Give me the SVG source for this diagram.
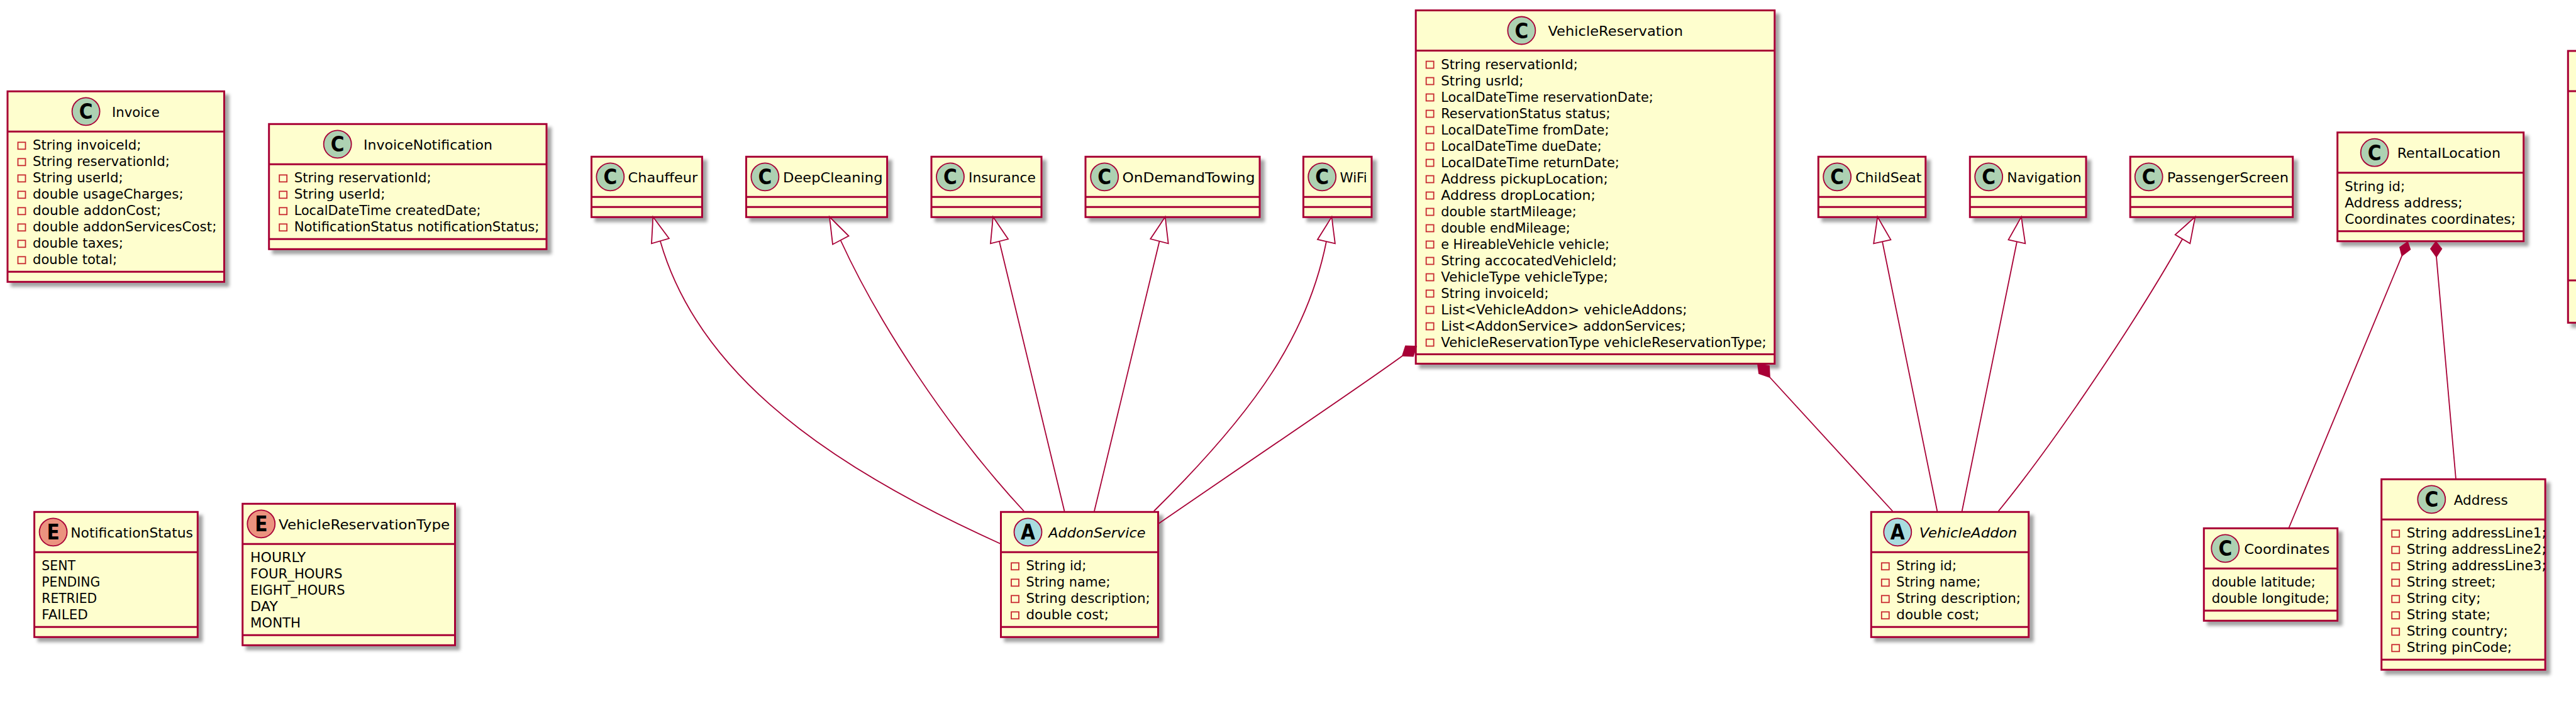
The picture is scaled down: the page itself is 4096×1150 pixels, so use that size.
<svg xmlns="http://www.w3.org/2000/svg" width="4096" height="1150" viewBox="0 0 4096 1150">
<style>
text{font-family:"DejaVu Sans","Liberation Sans",sans-serif;font-size:21.6px;fill:#000}
.i{font-style:italic}
.g{font-size:33px;font-weight:700;font-stretch:condensed;text-anchor:middle}
.box{fill:#FEFECE;stroke:#A80036;stroke-width:3;filter:url(#sh)}
.d{fill:none;stroke:#A80036;stroke-width:3}
.cc{fill:#ADD1B2;stroke:#A80036;stroke-width:1.8}
.ca{fill:#A9DCDF;stroke:#A80036;stroke-width:1.8}
.ce{fill:#EB937F;stroke:#A80036;stroke-width:1.8}
.p{fill:none;stroke:#C82930;stroke-width:1.8}
.l{fill:none;stroke:#A80036;stroke-width:1.8}
.h{fill:#fff;stroke:#A80036;stroke-width:1.8}
.m{fill:#A80036;stroke:#A80036;stroke-width:1.8}
</style>
<defs>
<filter id="sh" x="-10%" y="-10%" width="125%" height="125%"><feDropShadow dx="6.5" dy="6.5" stdDeviation="2.6" flood-color="#000" flood-opacity="0.36"/></filter>
<rect id="pv" class="p" width="12" height="11"/>
</defs>
<rect width="4096" height="1150" fill="#fff"/>

<g id="Invoice" transform="translate(12,145.3)"><rect class="box" width="344.5" height="303"/><path class="d" d="M0 64H344.5M0 287H344.5"/><circle class="cc" cx="124.6" cy="32" r="22"/><text class="g" x="124.6" y="44">C</text><text x="166" y="40.5" textLength="75.7" lengthAdjust="spacingAndGlyphs">Invoice</text>
<use href="#pv" x="16.5" y="81"/><text x="40" y="93" textLength="172.5" lengthAdjust="spacingAndGlyphs">String invoiceId;</text>
<use href="#pv" x="16.5" y="107"/><text x="40" y="119" textLength="217.8" lengthAdjust="spacingAndGlyphs">String reservationId;</text>
<use href="#pv" x="16.5" y="133"/><text x="40" y="145" textLength="143.8" lengthAdjust="spacingAndGlyphs">String userId;</text>
<use href="#pv" x="16.5" y="159"/><text x="40" y="171" textLength="239.6" lengthAdjust="spacingAndGlyphs">double usageCharges;</text>
<use href="#pv" x="16.5" y="185"/><text x="40" y="197" textLength="204" lengthAdjust="spacingAndGlyphs">double addonCost;</text>
<use href="#pv" x="16.5" y="211"/><text x="40" y="223" textLength="292.4" lengthAdjust="spacingAndGlyphs">double addonServicesCost;</text>
<use href="#pv" x="16.5" y="237"/><text x="40" y="249" textLength="143.8" lengthAdjust="spacingAndGlyphs">double taxes;</text>
<use href="#pv" x="16.5" y="263"/><text x="40" y="275" textLength="134" lengthAdjust="spacingAndGlyphs">double total;</text></g>

<g id="InvoiceNotification" transform="translate(427.7,197.3)"><rect class="box" width="441.3" height="199"/><path class="d" d="M0 64H441.3M0 183H441.3"/><circle class="cc" cx="109" cy="32" r="22"/><text class="g" x="109" y="44">C</text><text x="150.3" y="40.5" textLength="205" lengthAdjust="spacingAndGlyphs">InvoiceNotification</text>
<use href="#pv" x="16.5" y="81"/><text x="40" y="93" textLength="218" lengthAdjust="spacingAndGlyphs">String reservationId;</text>
<use href="#pv" x="16.5" y="107"/><text x="40" y="119" textLength="144.7" lengthAdjust="spacingAndGlyphs">String userId;</text>
<use href="#pv" x="16.5" y="133"/><text x="40" y="145" textLength="296.8" lengthAdjust="spacingAndGlyphs">LocalDateTime createdDate;</text>
<use href="#pv" x="16.5" y="159"/><text x="40" y="171" textLength="389.8" lengthAdjust="spacingAndGlyphs">NotificationStatus notificationStatus;</text></g>

<g id="NotificationStatus" transform="translate(54.6,814.3)"><rect class="box" width="259.7" height="199"/><path class="d" d="M0 64H259.7M0 183H259.7"/><circle class="ce" cx="30" cy="32" r="22"/><text class="g" x="30" y="44">E</text><text x="57.6" y="40.5" textLength="194.8" lengthAdjust="spacingAndGlyphs">NotificationStatus</text>
<text x="11.7" y="93" textLength="53.6" lengthAdjust="spacingAndGlyphs">SENT</text><text x="11.7" y="119" textLength="92.9" lengthAdjust="spacingAndGlyphs">PENDING</text><text x="11.7" y="145" textLength="87.8" lengthAdjust="spacingAndGlyphs">RETRIED</text><text x="11.7" y="171" textLength="73.5" lengthAdjust="spacingAndGlyphs">FAILED</text></g>

<g id="VehicleReservationType" transform="translate(385.7,801.3)"><rect class="box" width="337.8" height="225"/><path class="d" d="M0 64H337.8M0 209H337.8"/><circle class="ce" cx="29.6" cy="32" r="22"/><text class="g" x="29.6" y="44">E</text><text x="57.2" y="40.5" textLength="272.4" lengthAdjust="spacingAndGlyphs">VehicleReservationType</text>
<text x="12.3" y="93" textLength="88.3" lengthAdjust="spacingAndGlyphs">HOURLY</text><text x="12.3" y="119" textLength="146.4" lengthAdjust="spacingAndGlyphs">FOUR_HOURS</text><text x="12.3" y="145" textLength="150.5" lengthAdjust="spacingAndGlyphs">EIGHT_HOURS</text><text x="12.3" y="171" textLength="43.9" lengthAdjust="spacingAndGlyphs">DAY</text><text x="12.3" y="197" textLength="80.1" lengthAdjust="spacingAndGlyphs">MONTH</text></g>

<g id="Chauffeur" transform="translate(940.5,249.3)"><rect class="box" width="175.9" height="96"/><path class="d" d="M0 64H175.9M0 80H175.9"/><circle class="cc" cx="29.9" cy="32" r="22"/><text class="g" x="29.9" y="44">C</text><text x="58.1" y="40.5" textLength="110.7" lengthAdjust="spacingAndGlyphs">Chauffeur</text></g>
<g id="DeepCleaning" transform="translate(1186.5,249.3)"><rect class="box" width="224.1" height="96"/><path class="d" d="M0 64H224.1M0 80H224.1"/><circle class="cc" cx="29.9" cy="32" r="22"/><text class="g" x="29.9" y="44">C</text><text x="58.5" y="40.5" textLength="158.5" lengthAdjust="spacingAndGlyphs">DeepCleaning</text></g>
<g id="Insurance" transform="translate(1481,249.3)"><rect class="box" width="175" height="96"/><path class="d" d="M0 64H175M0 80H175"/><circle class="cc" cx="30" cy="32" r="22"/><text class="g" x="30" y="44">C</text><text x="59" y="40.5" textLength="107" lengthAdjust="spacingAndGlyphs">Insurance</text></g>
<g id="OnDemandTowing" transform="translate(1726,249.3)"><rect class="box" width="277" height="96"/><path class="d" d="M0 64H277M0 80H277"/><circle class="cc" cx="30.2" cy="32" r="22"/><text class="g" x="30.2" y="44">C</text><text x="58.6" y="40.5" textLength="210.8" lengthAdjust="spacingAndGlyphs">OnDemandTowing</text></g>
<g id="WiFi" transform="translate(2072.4,249.3)"><rect class="box" width="108.6" height="96"/><path class="d" d="M0 64H108.6M0 80H108.6"/><circle class="cc" cx="29.8" cy="32" r="22"/><text class="g" x="29.8" y="44">C</text><text x="58.1" y="40.5" textLength="43.3" lengthAdjust="spacingAndGlyphs">WiFi</text></g>
<g id="ChildSeat" transform="translate(2891.3,249.3)"><rect class="box" width="170.5" height="96"/><path class="d" d="M0 64H170.5M0 80H170.5"/><circle class="cc" cx="29.9" cy="32" r="22"/><text class="g" x="29.9" y="44">C</text><text x="58.9" y="40.5" textLength="105.3" lengthAdjust="spacingAndGlyphs">ChildSeat</text></g>
<g id="Navigation" transform="translate(3132.3,249.3)"><rect class="box" width="184.7" height="96"/><path class="d" d="M0 64H184.7M0 80H184.7"/><circle class="cc" cx="29.9" cy="32" r="22"/><text class="g" x="29.9" y="44">C</text><text x="59" y="40.5" textLength="118.3" lengthAdjust="spacingAndGlyphs">Navigation</text></g>
<g id="PassengerScreen" transform="translate(3387.2,249.3)"><rect class="box" width="258.5" height="96"/><path class="d" d="M0 64H258.5M0 80H258.5"/><circle class="cc" cx="29.5" cy="32" r="22"/><text class="g" x="29.5" y="44">C</text><text x="58.5" y="40.5" textLength="193.3" lengthAdjust="spacingAndGlyphs">PassengerScreen</text></g>

<g id="VehicleReservation" transform="translate(2251.2,16.5)"><rect class="box" width="570.6" height="562"/><path class="d" d="M0 64H570.6M0 547H570.6"/><circle class="cc" cx="168.2" cy="32" r="22"/><text class="g" x="168.2" y="44">C</text><text x="210.2" y="40.5" textLength="214.6" lengthAdjust="spacingAndGlyphs">VehicleReservation</text>
<use href="#pv" x="16.5" y="81"/><text x="40" y="93" textLength="217.6" lengthAdjust="spacingAndGlyphs">String reservationId;</text>
<use href="#pv" x="16.5" y="107"/><text x="40" y="119" textLength="131.4" lengthAdjust="spacingAndGlyphs">String usrId;</text>
<use href="#pv" x="16.5" y="133"/><text x="40" y="145" textLength="337.6" lengthAdjust="spacingAndGlyphs">LocalDateTime reservationDate;</text>
<use href="#pv" x="16.5" y="159"/><text x="40" y="171" textLength="269.4" lengthAdjust="spacingAndGlyphs">ReservationStatus status;</text>
<use href="#pv" x="16.5" y="185"/><text x="40" y="197" textLength="267.3" lengthAdjust="spacingAndGlyphs">LocalDateTime fromDate;</text>
<use href="#pv" x="16.5" y="211"/><text x="40" y="223" textLength="255.5" lengthAdjust="spacingAndGlyphs">LocalDateTime dueDate;</text>
<use href="#pv" x="16.5" y="237"/><text x="40" y="249" textLength="283.7" lengthAdjust="spacingAndGlyphs">LocalDateTime returnDate;</text>
<use href="#pv" x="16.5" y="263"/><text x="40" y="275" textLength="265.7" lengthAdjust="spacingAndGlyphs">Address pickupLocation;</text>
<use href="#pv" x="16.5" y="289"/><text x="40" y="301" textLength="245.7" lengthAdjust="spacingAndGlyphs">Address dropLocation;</text>
<use href="#pv" x="16.5" y="315"/><text x="40" y="327" textLength="215.5" lengthAdjust="spacingAndGlyphs">double startMileage;</text>
<use href="#pv" x="16.5" y="341"/><text x="40" y="353" textLength="205.7" lengthAdjust="spacingAndGlyphs">double endMileage;</text>
<use href="#pv" x="16.5" y="367"/><text x="40" y="379" textLength="267.8" lengthAdjust="spacingAndGlyphs">e HireableVehicle vehicle;</text>
<use href="#pv" x="16.5" y="393"/><text x="40" y="405" textLength="279.6" lengthAdjust="spacingAndGlyphs">String accocatedVehicleId;</text>
<use href="#pv" x="16.5" y="419"/><text x="40" y="431" textLength="265.7" lengthAdjust="spacingAndGlyphs">VehicleType vehicleType;</text>
<use href="#pv" x="16.5" y="445"/><text x="40" y="457" textLength="171.4" lengthAdjust="spacingAndGlyphs">String invoiceId;</text>
<use href="#pv" x="16.5" y="471"/><text x="40" y="483" textLength="391.4" lengthAdjust="spacingAndGlyphs">List&lt;VehicleAddon&gt; vehicleAddons;</text>
<use href="#pv" x="16.5" y="497"/><text x="40" y="509" textLength="389.4" lengthAdjust="spacingAndGlyphs">List&lt;AddonService&gt; addonServices;</text>
<use href="#pv" x="16.5" y="523"/><text x="40" y="535" textLength="517.6" lengthAdjust="spacingAndGlyphs">VehicleReservationType vehicleReservationType;</text></g>

<g id="AddonService" transform="translate(1591.5,814.3)"><rect class="box" width="250" height="199"/><path class="d" d="M0 64H250M0 183H250"/><circle class="ca" cx="43" cy="32" r="22"/><text class="g" x="43" y="44">A</text><text class="i" x="75.8" y="40.5" textLength="154.3" lengthAdjust="spacingAndGlyphs">AddonService</text>
<use href="#pv" x="16.5" y="81"/><text x="40" y="93" textLength="95.8" lengthAdjust="spacingAndGlyphs">String id;</text>
<use href="#pv" x="16.5" y="107"/><text x="40" y="119" textLength="133.9" lengthAdjust="spacingAndGlyphs">String name;</text>
<use href="#pv" x="16.5" y="133"/><text x="40" y="145" textLength="197.3" lengthAdjust="spacingAndGlyphs">String description;</text>
<use href="#pv" x="16.5" y="159"/><text x="40" y="171" textLength="131.4" lengthAdjust="spacingAndGlyphs">double cost;</text></g>

<g id="VehicleAddon" transform="translate(2975.3,814.3)"><rect class="box" width="250.4" height="199"/><path class="d" d="M0 64H250.4M0 183H250.4"/><circle class="ca" cx="42" cy="32" r="22"/><text class="g" x="42" y="44">A</text><text class="i" x="76.4" y="40.5" textLength="155.6" lengthAdjust="spacingAndGlyphs">VehicleAddon</text>
<use href="#pv" x="16.5" y="81"/><text x="40" y="93" textLength="95.7" lengthAdjust="spacingAndGlyphs">String id;</text>
<use href="#pv" x="16.5" y="107"/><text x="40" y="119" textLength="134" lengthAdjust="spacingAndGlyphs">String name;</text>
<use href="#pv" x="16.5" y="133"/><text x="40" y="145" textLength="197.7" lengthAdjust="spacingAndGlyphs">String description;</text>
<use href="#pv" x="16.5" y="159"/><text x="40" y="171" textLength="132" lengthAdjust="spacingAndGlyphs">double cost;</text></g>

<g id="RentalLocation" transform="translate(3716.7,210.7)"><rect class="box" width="296" height="173"/><path class="d" d="M0 64H296M0 157H296"/><circle class="cc" cx="59" cy="32" r="22"/><text class="g" x="59" y="44">C</text><text x="95" y="40.5" textLength="164.3" lengthAdjust="spacingAndGlyphs">RentalLocation</text>
<text x="11.6" y="93" textLength="95.7" lengthAdjust="spacingAndGlyphs">String id;</text><text x="11.6" y="119" textLength="187.3" lengthAdjust="spacingAndGlyphs">Address address;</text><text x="11.6" y="145" textLength="271.7" lengthAdjust="spacingAndGlyphs">Coordinates coordinates;</text></g>

<g id="Coordinates" transform="translate(3504.3,840.3)"><rect class="box" width="212.4" height="147"/><path class="d" d="M0 64H212.4M0 131H212.4"/><circle class="cc" cx="34" cy="32" r="22"/><text class="g" x="34" y="44">C</text><text x="64" y="40.5" textLength="136" lengthAdjust="spacingAndGlyphs">Coordinates</text>
<text x="12.4" y="93" textLength="165" lengthAdjust="spacingAndGlyphs">double latitude;</text><text x="12.4" y="119" textLength="187.3" lengthAdjust="spacingAndGlyphs">double longitude;</text></g>

<g id="Address" transform="translate(3786.7,762.3)"><rect class="box" width="260.4" height="303"/><path class="d" d="M0 64H260.4M0 287H260.4"/><circle class="cc" cx="79.6" cy="32" r="22"/><text class="g" x="79.6" y="44">C</text><text x="115" y="40.5">Address</text>
<use href="#pv" x="16.5" y="81"/><text x="40" y="93">String addressLine1;</text>
<use href="#pv" x="16.5" y="107"/><text x="40" y="119">String addressLine2;</text>
<use href="#pv" x="16.5" y="133"/><text x="40" y="145">String addressLine3;</text>
<use href="#pv" x="16.5" y="159"/><text x="40" y="171">String street;</text>
<use href="#pv" x="16.5" y="185"/><text x="40" y="197">String city;</text>
<use href="#pv" x="16.5" y="211"/><text x="40" y="223">String state;</text>
<use href="#pv" x="16.5" y="237"/><text x="40" y="249">String country;</text>
<use href="#pv" x="16.5" y="263"/><text x="40" y="275">String pinCode;</text></g>

<g id="CutOffClass" transform="translate(4083.3,81)"><rect class="box" width="200" height="432.3"/><path class="d" d="M0 64H200M0 365H200"/></g>

<g id="connectors">
<path class="l" d="M1050,384C1105,575 1280,725 1591,865"/><polygon class="h" points="1038.3,345 1063.8,379.3 1036,387.3"/>
<path class="l" d="M1336.5,382C1395,510 1505,680 1628,813"/><polygon class="h" points="1319,345 1349.5,375.3 1324,388.7"/>
<path class="l" d="M1589,384L1692.5,813"/><polygon class="h" points="1579,345 1603,380.3 1575,387.3"/>
<path class="l" d="M1843.5,384L1740,813"/><polygon class="h" points="1852.7,345 1857.7,387.3 1829.3,380"/>
<path class="l" d="M2109,384C2080,530 2000,650 1834.8,813"/><polygon class="h" points="2117.5,345 2122.9,387.3 2095,381"/>
<path class="l" d="M2993,384L3080.3,813"/><polygon class="h" points="2985.4,345 3006.4,381.3 2979.2,387.3"/>
<path class="l" d="M3207,384.5L3119.7,813"/><polygon class="h" points="3214,345 3220.3,387.3 3193.5,381.3"/>
<path class="l" d="M3470,380.5C3400,505 3270,700 3177.7,813"/><polygon class="h" points="3490.4,345 3482.3,387.3 3458.7,373.3"/>
<path class="l" d="M2230,566C2160,617 2050,690 1842,833"/><polygon class="m" points="2252,551 2235,550.5 2230,566 2247,566.5"/>
<path class="l" d="M2814,600L3009.3,813"/><polygon class="m" points="2795,579 2813,582 2814,600 2797,594"/>
<path class="l" d="M3819.3,406.7L3639.3,840"/><polygon class="m" points="3828.3,385 3832.3,396.7 3819.3,406.7 3816,393.3"/>
<path class="l" d="M3874,408.3L3905,762"/><polygon class="m" points="3873.3,384.5 3882.3,395.7 3874,408.3 3865,395.7"/>
</g>
</svg>
